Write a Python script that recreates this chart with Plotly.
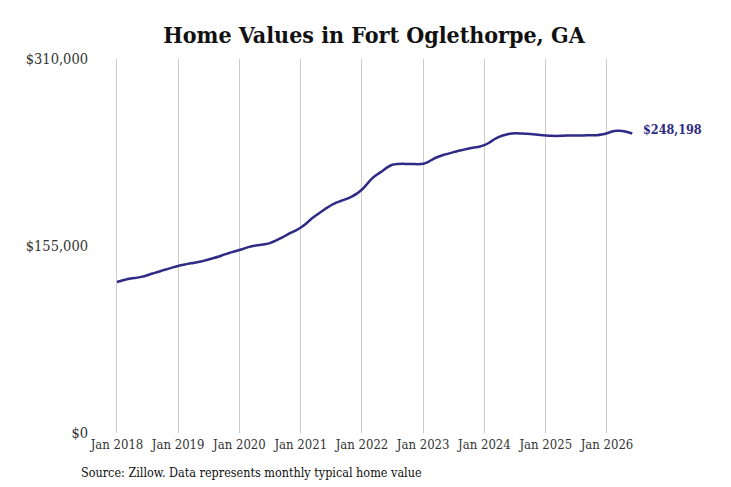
import pandas as pd
import plotly.graph_objects as go

# monthly typical home value, Jan 2018 - Jun 2026 (thousands of $)
months = pd.date_range("2018-01-01", "2026-06-01", freq="MS")
values_k = [
    125.2, 126.4, 127.4, 128.2, 128.8, 129.6, 130.8, 132.2, 133.4, 134.8, 136.0, 137.3,  # 2018
    138.5, 139.4, 140.2, 140.9, 141.7, 142.7, 143.8, 145.0, 146.3, 147.8, 149.2, 150.4,  # 2019
    151.7, 153.0, 154.3, 155.2, 155.8, 156.5, 157.4, 159.2, 161.4, 163.5, 165.8, 167.8,  # 2020
    170.3, 173.5, 177.0, 180.2, 183.2, 186.2, 188.8, 190.9, 192.5, 194.0, 196.0, 198.4,  # 2021
    201.8, 206.5, 210.8, 214.2, 217.0, 220.2, 222.3, 223.0, 223.1, 223.0, 222.9, 222.8,  # 2022
    223.2, 224.8, 227.0, 229.0, 230.4, 231.6, 232.8, 233.9, 234.9, 235.8, 236.6, 237.3,  # 2023
    238.6, 240.8, 243.5, 245.6, 247.0, 248.0, 248.4, 248.3, 248.1, 247.9, 247.5, 247.0,  # 2024
    246.6, 246.3, 246.2, 246.3, 246.5, 246.6, 246.6, 246.6, 246.7, 246.8, 246.9, 247.4,  # 2025
    248.4, 249.9, 250.5, 250.4, 249.5, 248.198,  # 2026
]
values = [v * 1000 for v in values_k]

y_ticks = [0, 155000, 310000]
y_labels = ["$0", "$155,000", "$310,000"]
x_ticks = pd.date_range("2018-01-01", "2026-01-01", freq="YS")
x_labels = [d.strftime("Jan %Y") for d in x_ticks]

line_color = "#2e2a85"
font_family = "DejaVu Serif Condensed, DejaVu Serif, serif"

# page body has an 8px margin, so the figure is sized to fit inside the window
W, H = 723, 479
L, R, T, B = 87, 90, 51, 54

fig = go.Figure()
fig.add_trace(go.Scatter(
    x=months, y=values, mode="lines",
    line=dict(color=line_color, width=2.5, shape="spline", smoothing=0.6),
    hoverinfo="skip", showlegend=False,
))

# end label
fig.add_annotation(
    x=months[-1], y=values[-1], text=f"<b>${values[-1]:,.0f}</b>",
    xanchor="left", yanchor="middle", xshift=9, yshift=4, showarrow=False,
    font=dict(family=font_family, size=12.5, color=line_color),
)

# source note
pw, ph = W - L - R, H - T - B
fig.add_annotation(
    x=(71 - L) / pw, y=(H - B - 464) / ph, xref="paper", yref="paper",
    text="Source: Zillow. Data represents monthly typical home value",
    showarrow=False, xanchor="left", yanchor="middle",
    font=dict(family=font_family, size=12.5, color="#111111"),
)

fig.update_layout(
    width=W, height=H,
    margin=dict(l=L, r=R, t=T, b=B),
    paper_bgcolor="white", plot_bgcolor="white",
    font=dict(family=font_family, size=13, color="#333333"),
    title=dict(
        text="<b>Home Values in Fort Oglethorpe, GA</b>",
        x=366 / W, xanchor="center", y=1 - 27 / H, yanchor="middle",
        font=dict(family=font_family, size=23, color="#111111"),
    ),
    xaxis=dict(
        range=["2017-08-23", "2026-07-23"],
        tickvals=x_ticks, ticktext=x_labels,
        showgrid=True, gridcolor="#cccccc", gridwidth=1,
        zeroline=False, showline=False, ticks="", ticklabelstandoff=2,
    ),
    yaxis=dict(
        range=[0, 310000],
        tickvals=y_ticks, ticktext=y_labels, tickfont=dict(size=14.5),
        showgrid=False, zeroline=False, showline=False, ticks="",
        ticklabelstandoff=6,
    ),
)

fig.write_html("out.html")
